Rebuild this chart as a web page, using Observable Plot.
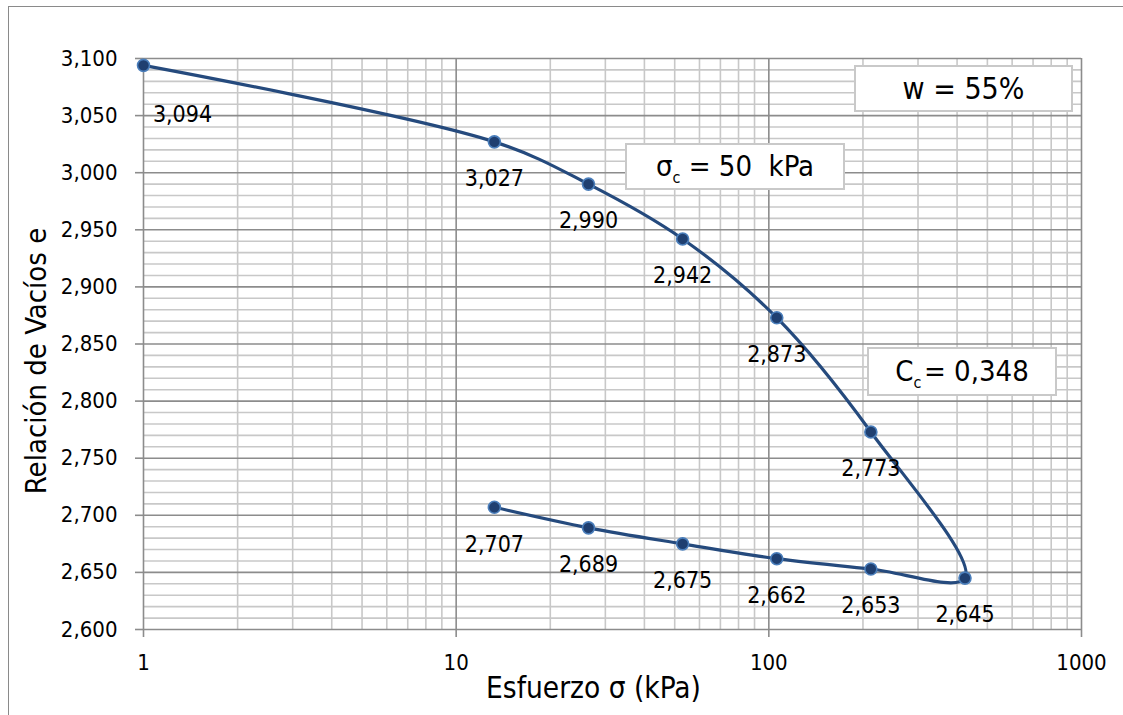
<!DOCTYPE html>
<html>
<head>
<meta charset="utf-8">
<script src="https://cdn.jsdelivr.net/npm/d3@7"></script>
<script src="https://cdn.jsdelivr.net/npm/@observablehq/plot@0.6"></script>
<style>
  html, body { margin: 0; padding: 0; background: #fff; }
  body { width: 1123px; height: 715px; overflow: hidden; }
  #wrap { position: relative; width: 1123px; height: 715px;
    font-family: "DejaVu Sans Condensed", "DejaVu Sans", sans-serif; font-stretch: condensed; }
  #border { position: absolute; left: 8px; top: 6px; width: 1130px; height: 730px;
    border: 1.5px solid #8a8a8a; box-sizing: border-box; }
  .note { position: absolute; background: #fff; border: 2px solid #c9c9c9; box-sizing: border-box;
    color: #000; display: flex; align-items: center; justify-content: center; white-space: nowrap; }
  .note span { display: inline-block; line-height: 1; }
  .note sub { font-size: 55%; vertical-align: -0.45em; line-height: 0; }
  svg { font-family: "DejaVu Sans Condensed", "DejaVu Sans", sans-serif; font-stretch: condensed; }
</style>
</head>
<body>
<div id="wrap">
  <div id="border"></div>
  <div id="chart" style="position:absolute;left:0;top:0;"></div>
  <div class="note" style="left:854px;top:65px;width:219px;height:47px;font-size:30px;"><span>w = 55%</span></div>
  <div class="note" style="left:625px;top:143px;width:220px;height:47px;font-size:29px;"><span>σ<sub>c</sub>&nbsp;= 50&nbsp; kPa</span></div>
  <div class="note" style="left:867px;top:347px;width:190px;height:49px;font-size:29px;"><span>C<sub>c</sub>&#8202;= 0,348</span></div>
</div>
<script>
// Loading branch
const sigmaLoad = [1, 13.25, 26.5, 53, 106, 212, 424];
const eLoad = [3.094, 3.027, 2.990, 2.942, 2.873, 2.773, 2.645];
// Unloading branch
const sigmaUnload = [212, 106, 53, 26.5, 13.25];
const eUnload = [2.653, 2.662, 2.675, 2.689, 2.707];

const xTicks = [1, 10, 100, 1000];
const yTicks = [2.6, 2.65, 2.7, 2.75, 2.8, 2.85, 2.9, 2.95, 3.0, 3.05, 3.1];
const xLabel = "Esfuerzo σ (kPa)";
const yLabel = "Relación de Vacíos e";

const curve = [
  ...sigmaLoad.map((s, i) => ({s, e: eLoad[i]})),
  ...sigmaUnload.map((s, i) => ({s, e: eUnload[i]}))
];

const xMinor = [];
for (const d of [1, 10, 100]) for (let k = 2; k <= 9; k++) xMinor.push(d * k);
const yMinor = d3.range(260, 311).filter(v => v % 5 !== 0).map(v => v / 100);

const fmt = v => d3.format(".3f")(v).replace(".", ",");
const lineColor = "#254a7d";

const plot = Plot.plot({
  width: 1123,
  height: 715,
  marginLeft: 143,
  marginRight: 42,
  marginTop: 58,
  marginBottom: 86,
  style: { fontSize: "22px", background: "transparent", color: "#000" },
  x: { type: "log", domain: [1, 1000] },
  y: { domain: [2.6, 3.1] },
  marks: [
    Plot.gridX(xMinor, { stroke: "#c8c8c8", strokeOpacity: 1, strokeWidth: 1.6 }),
    Plot.gridY(yMinor, { stroke: "#c8c8c8", strokeOpacity: 1, strokeWidth: 1.6 }),
    Plot.gridX(xTicks, { stroke: "#8c8c8c", strokeOpacity: 1, strokeWidth: 1.6 }),
    Plot.gridY(yTicks, { stroke: "#8c8c8c", strokeOpacity: 1, strokeWidth: 1.6 }),
    Plot.axisY(yTicks, {
      tickSize: 8, tickPadding: 18, stroke: "#8c8c8c", strokeWidth: 1.6,
      tickFormat: fmt, fontSize: 22, label: null
    }),
    Plot.axisX(xTicks, {
      tickSize: 8, tickPadding: 17, stroke: "#8c8c8c", strokeWidth: 1.6,
      tickFormat: d => String(d), fontSize: 22, label: null
    }),
    Plot.line(curve, { x: "s", y: "e", curve: "catmull-rom", tension: 0.5, stroke: lineColor, strokeWidth: 3.2 }),
    Plot.dot(curve, { x: "s", y: "e", r: 6, fill: "#1f3f70", stroke: "#4a7ebb", strokeWidth: 1.6 }),
    Plot.text(curve.slice(0, 1), { x: "s", y: "e", text: d => fmt(d.e), dx: 39, dy: 49, fontSize: 23, fill: "#000" }),
    Plot.text(curve.slice(1), { x: "s", y: "e", text: d => fmt(d.e), dy: 37, fontSize: 23, fill: "#000" }),
    Plot.text([xLabel], { frameAnchor: "bottom", textAnchor: "middle", lineAnchor: "middle", dx: -19, dy: 59, fontSize: 29.5, fill: "#000" }),
    Plot.text([yLabel], { frameAnchor: "left", textAnchor: "middle", lineAnchor: "middle", dx: -107, dy: 17, rotate: -90, fontSize: 29, fill: "#000" })
  ]
});
document.getElementById("chart").appendChild(plot);
</script>
</body>
</html>
